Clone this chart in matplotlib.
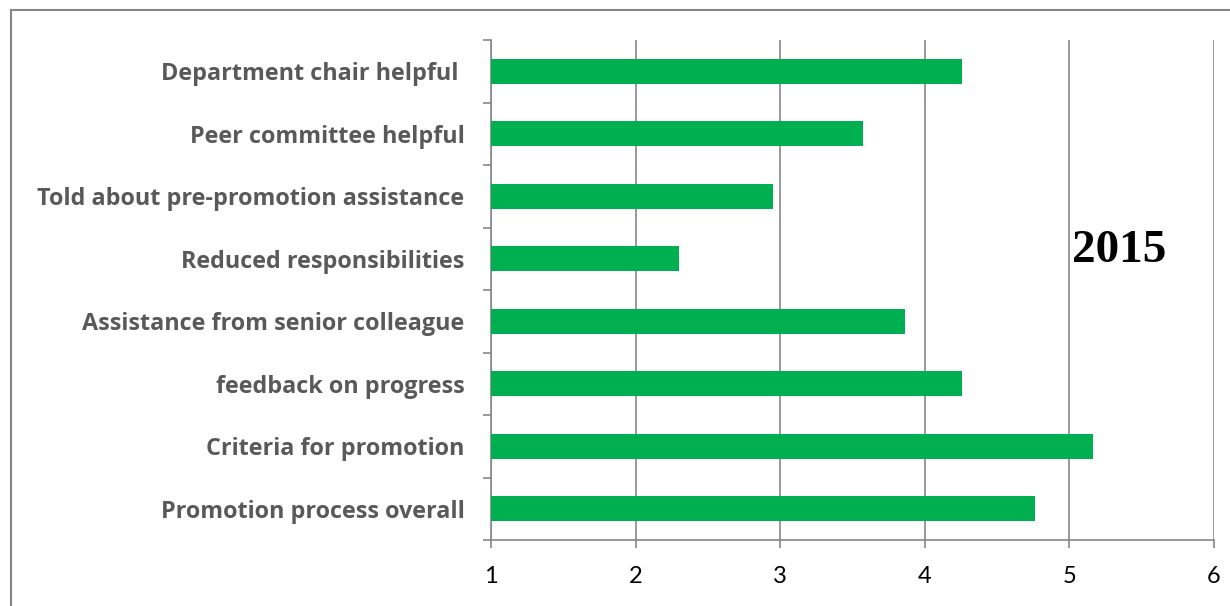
import matplotlib.pyplot as plt
from matplotlib.lines import Line2D

# survey items, bottom to top as drawn
categories = [
    "Promotion process overall",
    "Criteria for promotion",
    "feedback on progress",
    "Assistance from senior colleague",
    "Reduced responsibilities",
    "Told about pre-promotion assistance",
    "Peer committee helpful",
    "Department chair helpful ",
]
scores = [4.76, 5.16, 4.26, 3.86, 2.30, 2.95, 3.57, 4.26]
x_ticks = [1, 2, 3, 4, 5, 6]
year_label = "2015"

GREEN = "#00B050"
GRAY = "#878787"

fig = plt.figure(figsize=(12.3, 6.06), dpi=100)
ax = fig.add_axes([491 / 1230, 66 / 606, 723 / 1230, 500 / 606])

pos = list(range(len(categories)))
ax.barh(pos, [s - 1 for s in scores], left=1, height=0.4, color=GREEN, zorder=3)

ax.set_xlim(1, 6)
ax.set_ylim(-0.5, len(categories) - 0.5)
ax.set_xticks(x_ticks)
ax.set_xticklabels([str(t) for t in x_ticks], fontsize=17, family="Lato", color="black")
ax.set_yticks(pos)
ax.set_yticklabels(categories, fontsize=16.8, family="Open Sans", fontweight="bold", color="#595959")
ax.tick_params(axis="y", length=0, pad=19)
ax.tick_params(axis="x", length=6, width=1.2, color=GRAY, pad=13)

# category separators as minor ticks on the left axis
ax.set_yticks([p - 0.5 for p in pos] + [len(categories) - 0.5], minor=True)
ax.tick_params(axis="y", which="minor", length=6, width=1.2, color=GRAY)

ax.grid(axis="x", color=GRAY, linewidth=1.2, zorder=0)
for side in ["top", "right"]:
    ax.spines[side].set_visible(False)
for side in ["left", "bottom"]:
    ax.spines[side].set_color(GRAY)
    ax.spines[side].set_linewidth(1.2)

ax.text(5.02, 4.13, year_label, fontsize=34, fontweight="bold",
        family="Liberation Serif", ha="left", va="center", zorder=4)

# outer chart frame
fy = 1 - 9.5 / 606
fx = 10.5 / 1230
fig.add_artist(Line2D([fx, fx], [0, fy], transform=fig.transFigure, color=GRAY, lw=1.5))
fig.add_artist(Line2D([fx, 1], [fy, fy], transform=fig.transFigure, color=GRAY, lw=1.5))

fig.savefig("out.png", dpi=100)
